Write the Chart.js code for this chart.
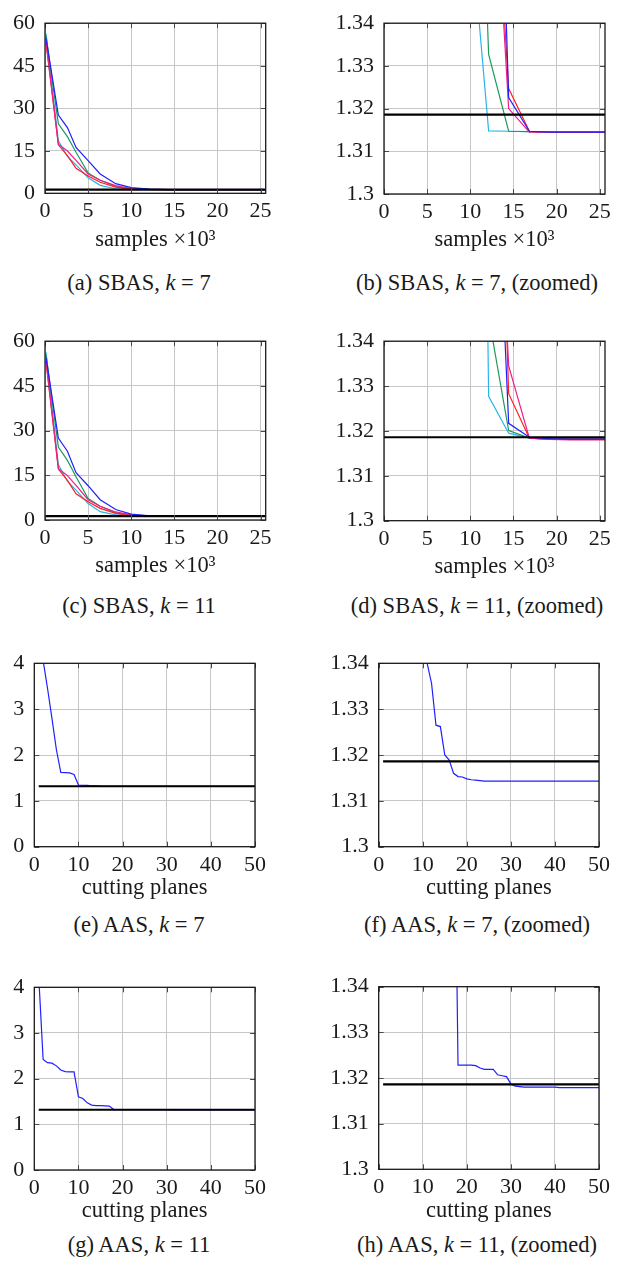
<!DOCTYPE html>
<html><head><meta charset="utf-8">
<script src="https://cdn.jsdelivr.net/npm/chart.js@4.4.1/dist/chart.umd.min.js"></script>
<style>
html,body{margin:0;padding:0;background:#fff;}
body{width:627px;height:1271px;position:relative;overflow:hidden;font-family:"Liberation Serif",serif;}
canvas{position:absolute;}
.cap{position:absolute;font-size:22.5px;color:#1a1a1a;white-space:nowrap;transform:translate(-50%,-50%);line-height:1;}
.cap i{font-style:italic;}
</style></head><body>
<script>
// ---------- data ----------
// SBAS: samples (x10^3)
const sbasX = [0.12, 1.55, 2.6, 3.6, 5.0, 6.4, 8.2, 10.0, 12.12, 14.44, 16.84, 19.2, 21.6, 24.0, 25.6];
// k = 7
const sbas7Blue    = [54.7, 27.6, 23.2, 16.2, 11.5, 6.8, 3.4, 2.0, 1.472, 1.3226, 1.3147, 1.3145, 1.3145, 1.3145, 1.3145];
const sbas7Red     = [53.0, 17.1, 13.3, 8.8, 6.1, 3.9, 2.2, 1.5, 1.402, 1.3247, 1.3147, 1.3145, 1.3145, 1.3145, 1.3145];
const sbas7Green   = [55.5, 24.5, 20.0, 14.5, 7.2, 4.6, 2.4, 1.45, 1.3327, 1.3147, 1.3146, 1.3145, 1.3145, 1.3145, 1.3145];
const sbas7Cyan    = [56.3, 18.5, 13.0, 10.0, 5.5, 2.8, 1.6, 1.364, 1.3148, 1.3147, 1.3146, 1.3145, 1.3145, 1.3145, 1.3145];
const sbas7Magenta = [53.5, 17.3, 14.9, 11.6, 6.8, 4.6, 2.7, 1.65, 1.40, 1.3200, 1.3145, 1.3145, 1.3145, 1.3145, 1.3145];
// k = 11
const sbas11Blue    = [54.5, 27.5, 23.1, 15.9, 11.5, 6.8, 3.5, 2.0, 1.423, 1.3217, 1.3186, 1.3183, 1.3182, 1.3182, 1.3182];
const sbas11Red     = [53.0, 17.1, 13.3, 8.8, 6.1, 3.9, 2.2, 1.55, 1.471, 1.3283, 1.3184, 1.3182, 1.3182, 1.3182, 1.3182];
const sbas11Green   = [55.5, 24.5, 20.0, 14.5, 7.2, 4.6, 2.4, 1.5, 1.3455, 1.3201, 1.3184, 1.3182, 1.3182, 1.3182, 1.3182];
const sbas11Cyan    = [56.3, 18.5, 13.0, 10.0, 5.5, 2.8, 1.7, 1.654, 1.3277, 1.3195, 1.3184, 1.3182, 1.3182, 1.3182, 1.3182];
const sbas11Magenta = [53.5, 17.3, 14.9, 11.6, 6.8, 4.6, 2.7, 1.7, 1.425, 1.3345, 1.3184, 1.3181, 1.3180, 1.3180, 1.3180];
// reference optimum
const refValue = 1.3186;
const sbasRefX = [0, 25.6];
const aasRefX = [1, 50];

// AAS: cutting planes
const aasX = [1,2,3,4,5,6,7,8,9,10,11,12,13,14,15,16,17,18,19,20,21,22,23,24,25,26,27,28,29,30,31,32,33,34,35,36,37,38,39,40,41,42,43,44,45,46,47,48,49,50];
const aas7 = [5.6, 4.06, 3.45, 2.8, 2.12, 1.62, 1.615, 1.61, 1.575, 1.345,
  1.3400, 1.3356, 1.3265, 1.3262, 1.3200, 1.3189, 1.3160, 1.3153, 1.3152, 1.3148,
  1.3146, 1.3145, 1.3144, 1.3143, 1.3143, 1.3143, 1.3143, 1.3143, 1.3143, 1.3143,
  1.3143, 1.3143, 1.3143, 1.3143, 1.3143, 1.3143, 1.3143, 1.3143, 1.3143, 1.3143,
  1.3143, 1.3143, 1.3143, 1.3143, 1.3143, 1.3143, 1.3143, 1.3143, 1.3143, 1.3143];
const aas11 = [4.24, 2.42, 2.35, 2.34, 2.28, 2.19, 2.155, 2.15, 2.15, 1.60,
  1.565, 1.47, 1.42, 1.41, 1.408, 1.405, 1.40, 1.3228, 1.3228, 1.3228,
  1.3228, 1.3227, 1.3222, 1.3219, 1.3219, 1.3219, 1.3207, 1.3205, 1.3203, 1.3187,
  1.3182, 1.3181, 1.3180, 1.3180, 1.3180, 1.3180, 1.3180, 1.3180, 1.3180, 1.3180,
  1.3179, 1.3179, 1.3179, 1.3179, 1.3179, 1.3179, 1.3179, 1.3179, 1.3179, 1.3179];

// tick values / labels
const sbasXTicks = [0, 5, 10, 15, 20, 25];
const sbasXLabels = ['0', '5', '10', '15', '20', '25'];
const sbasYTicks = [0, 15, 30, 45, 60];
const sbasYLabels = ['0', '15', '30', '45', '60'];
const zoomYTicks = [1.30, 1.31, 1.32, 1.33, 1.34];
const zoomYLabels = ['1.3', '1.31', '1.32', '1.33', '1.34'];
const aasXTicks = [0, 10, 20, 30, 40, 50];
const aasXLabels = ['0', '10', '20', '30', '40', '50'];
const aasYTicks = [0, 1, 2, 3, 4];
const aasYLabels = ['0', '1', '2', '3', '4'];

const captions = [
  '(a) SBAS, <i>k</i> = 7', '(b) SBAS, <i>k</i> = 7, (zoomed)',
  '(c) SBAS, <i>k</i> = 11', '(d) SBAS, <i>k</i> = 11, (zoomed)',
  '(e) AAS, <i>k</i> = 7', '(f) AAS, <i>k</i> = 7, (zoomed)',
  '(g) AAS, <i>k</i> = 11', '(h) AAS, <i>k</i> = 11, (zoomed)'
];

// ---------- styling ----------
const COL = {blue:'#1f1fff', red:'#ff1f1f', green:'#1c9a5c', cyan:'#2ab4ec', magenta:'#ee1f88'};
Chart.defaults.font.family = '"Liberation Serif", serif';
Chart.defaults.font.size = 22;
Chart.defaults.color = '#1a1a1a';

function pts(xs, ys) { return xs.map((x, i) => ({x: x, y: ys[i]})); }
function ref(xs) { return xs.map(x => ({x: x, y: refValue})); }
function ds(data, color, w) {
  return {data: data, borderColor: color, borderWidth: w || 1.2, pointRadius: 0, tension: 0, fill: false};
}
function sbasSets(b, r, g, c, m) {
  return [
    ds(ref(sbasRefX), '#000', 2.2),
    ds(pts(sbasX, b), COL.blue),
    ds(pts(sbasX, m), COL.magenta),
    ds(pts(sbasX, r), COL.red),
    ds(pts(sbasX, g), COL.green),
    ds(pts(sbasX, c), COL.cyan)
  ];
}
function aasSets(ys) {
  return [ds(ref(aasRefX), '#000', 2.2), ds(pts(aasX, ys), COL.blue)];
}

const framePlugin = {
  id: 'frame',
  afterDatasetsDraw(chart) {
    const {ctx, chartArea: a, scales} = chart;
    ctx.save();
    ctx.strokeStyle = '#4a4a4a';
    ctx.lineWidth = 1;
    const L = 5;
    scales.x.ticks.forEach(t => {
      const p = Math.round(scales.x.getPixelForValue(t.value)) + 0.5;
      ctx.beginPath();
      ctx.moveTo(p, a.bottom); ctx.lineTo(p, a.bottom - L);
      ctx.moveTo(p, a.top); ctx.lineTo(p, a.top + L);
      ctx.stroke();
    });
    scales.y.ticks.forEach(t => {
      const p = Math.round(scales.y.getPixelForValue(t.value)) + 0.5;
      ctx.beginPath();
      ctx.moveTo(a.left, p); ctx.lineTo(a.left + L, p);
      ctx.moveTo(a.right, p); ctx.lineTo(a.right - L, p);
      ctx.stroke();
    });
    ctx.strokeStyle = '#1a1a1a';
    ctx.lineWidth = 1.3;
    ctx.strokeRect(a.left, a.top, a.right - a.left, a.bottom - a.top);
    ctx.restore();
  }
};

function panel(o) {
  const c = document.createElement('canvas');
  c.width = o.W; c.height = o.H;
  c.style.left = o.cl + 'px'; c.style.top = o.ct + 'px';
  c.style.width = o.W + 'px'; c.style.height = o.H + 'px';
  document.body.appendChild(c);
  const yW = o.L - o.cl;
  const padTop = o.T - o.ct;
  const padRight = o.W - (o.R - o.cl);
  const xH = o.H - (o.B - o.ct);
  new Chart(c, {
    type: 'line',
    data: {datasets: o.datasets},
    options: {
      responsive: false, animation: false, devicePixelRatio: 1,
      layout: {padding: {left: 0, top: padTop, right: padRight, bottom: 0}},
      plugins: {legend: {display: false}, tooltip: {enabled: false}},
      scales: {
        x: {
          type: 'linear', min: o.xmin, max: o.xmax,
          afterBuildTicks: s => { s.ticks = o.xt.map(v => ({value: v})); },
          afterFit: s => { s.height = xH; },
          ticks: {padding: 5, maxRotation: 0, autoSkip: false, callback: (v, i) => o.xl[i]},
          grid: {color: '#c6c6c6', lineWidth: 1, drawTicks: false},
          border: {display: false},
          title: {display: !!o.title, text: o.title, padding: {top: 0, bottom: 0}, font: {size: 22.5}}
        },
        y: {
          type: 'linear', min: o.ymin, max: o.ymax,
          afterBuildTicks: s => { s.ticks = o.yt.map(v => ({value: v})); },
          afterFit: s => { s.width = yW; },
          ticks: {padding: 10, autoSkip: false, callback: (v, i) => o.yl[i]},
          grid: {color: '#c6c6c6', lineWidth: 1, drawTicks: false},
          border: {display: false}
        }
      }
    },
    plugins: [framePlugin]
  });
}

const sTitle = 'samples \u00d710\u00b3';
const cTitle = 'cutting planes';

// row 1
panel({cl: 0, ct: 0, W: 310, H: 254, L: 45, R: 265.7, T: 12.3, B: 193.3,
  xmin: 0, xmax: 25.6, ymin: 0, ymax: 60, xt: sbasXTicks, xl: sbasXLabels, yt: sbasYTicks, yl: sbasYLabels,
  title: sTitle, datasets: sbasSets(sbas7Blue, sbas7Red, sbas7Green, sbas7Cyan, sbas7Magenta)});
panel({cl: 318, ct: 0, W: 309, H: 254, L: 384, R: 605, T: 12.3, B: 194,
  xmin: 0, xmax: 25.6, ymin: 1.30, ymax: 1.34, xt: sbasXTicks, xl: sbasXLabels, yt: zoomYTicks, yl: zoomYLabels,
  title: sTitle, datasets: sbasSets(sbas7Blue, sbas7Red, sbas7Green, sbas7Cyan, sbas7Magenta)});
// row 2
panel({cl: 0, ct: 318, W: 310, H: 262, L: 45, R: 265.7, T: 338.3, B: 520,
  xmin: 0, xmax: 25.6, ymin: 0, ymax: 60, xt: sbasXTicks, xl: sbasXLabels, yt: sbasYTicks, yl: sbasYLabels,
  title: sTitle, datasets: sbasSets(sbas11Blue, sbas11Red, sbas11Green, sbas11Cyan, sbas11Magenta)});
panel({cl: 318, ct: 318, W: 309, H: 263, L: 384, R: 605, T: 338.3, B: 520.7,
  xmin: 0, xmax: 25.6, ymin: 1.30, ymax: 1.34, xt: sbasXTicks, xl: sbasXLabels, yt: zoomYTicks, yl: zoomYLabels,
  title: sTitle, datasets: sbasSets(sbas11Blue, sbas11Red, sbas11Green, sbas11Cyan, sbas11Magenta)});
// row 3
panel({cl: 0, ct: 640, W: 310, H: 262, L: 34.3, R: 255, T: 663.3, B: 846.7,
  xmin: 0, xmax: 50, ymin: 0, ymax: 4, xt: aasXTicks, xl: aasXLabels, yt: aasYTicks, yl: aasYLabels,
  title: cTitle, datasets: aasSets(aas7)});
panel({cl: 318, ct: 640, W: 309, H: 262, L: 378.7, R: 599, T: 663.3, B: 846.7,
  xmin: 0, xmax: 50, ymin: 1.30, ymax: 1.34, xt: aasXTicks, xl: aasXLabels, yt: zoomYTicks, yl: zoomYLabels,
  title: cTitle, datasets: aasSets(aas7)});
// row 4
panel({cl: 0, ct: 962, W: 310, H: 263, L: 34.3, R: 255, T: 987.3, B: 1170,
  xmin: 0, xmax: 50, ymin: 0, ymax: 4, xt: aasXTicks, xl: aasXLabels, yt: aasYTicks, yl: aasYLabels,
  title: cTitle, datasets: aasSets(aas11)});
panel({cl: 318, ct: 962, W: 309, H: 263, L: 378.7, R: 599, T: 986.7, B: 1169.3,
  xmin: 0, xmax: 50, ymin: 1.30, ymax: 1.34, xt: aasXTicks, xl: aasXLabels, yt: zoomYTicks, yl: zoomYLabels,
  title: cTitle, datasets: aasSets(aas11)});

// captions
const capPos = [[139, 283], [477, 283], [139, 606], [477, 606], [139, 925], [477, 925], [139, 1245], [477, 1245]];
captions.forEach((t, i) => {
  const d = document.createElement('div');
  d.className = 'cap';
  d.innerHTML = t;
  d.style.left = capPos[i][0] + 'px';
  d.style.top = capPos[i][1] + 'px';
  document.body.appendChild(d);
});
</script>
</body></html>
